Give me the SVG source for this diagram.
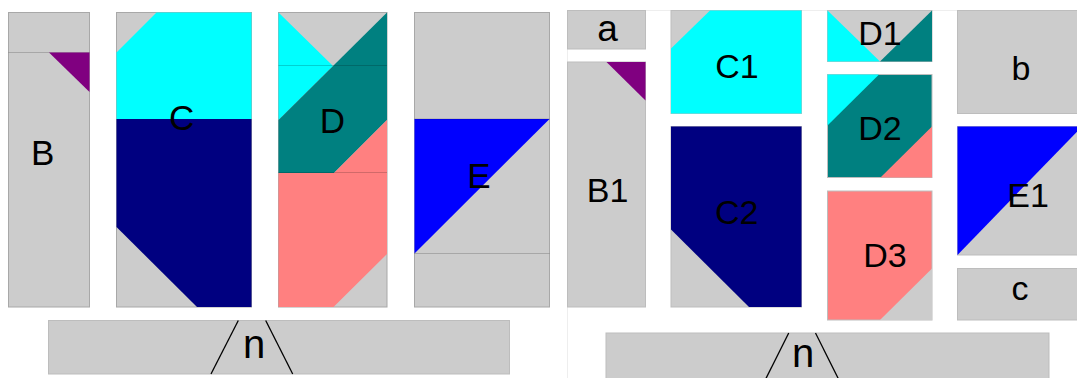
<svg xmlns="http://www.w3.org/2000/svg" width="1077" height="378" viewBox="0 0 1077 378">
<style>
.g{fill:#cccccc;stroke:#a8a8a8;stroke-width:1}
.gl{fill:#cccccc;stroke:#bdbdbd;stroke-width:1}
.gp{fill:#cccccc;stroke:none}
.cy{fill:#00ffff}
.nv{fill:#000080}
.tl{fill:#008080}
.pk{fill:#ff8080}
.bl{fill:#0000ff}
.pu{fill:#800080}
.sep{stroke:#000;stroke-opacity:0.18;stroke-width:1;fill:none}
.lbl{font-family:"Liberation Sans",Arial,sans-serif;fill:#000;text-anchor:middle}
.L{font-size:35px}
.R{font-size:34px}
.N{font-size:40px}
.A{font-size:37px}
.cn{stroke:#000;stroke-width:1.3;fill:none}
</style>
<rect x="0" y="0" width="1077" height="378" fill="#ffffff"/>
<rect x="567.5" y="10.5" width="600" height="500" fill="none" stroke="#eeeeee" stroke-width="1"/>

<g id="B">
<rect class="g" x="8.5" y="12.5" width="81" height="294.5"/>
<line class="sep" x1="8.5" y1="52.5" x2="89.5" y2="52.5" stroke-opacity="0.25"/>
<polygon class="pu" points="49,52.5 89.5,52.5 89.5,92"/>
<text class="lbl L" x="42.7" y="165">B</text>
</g>

<g id="C">
<rect class="g" x="116.5" y="12.5" width="135" height="294.5"/>
<polygon class="cy" points="156.5,12.5 251.5,12.5 251.5,119 116.5,119 116.5,52.5"/>
<polygon class="nv" points="116.5,119 251.5,119 251.5,307 197,307 116.5,227"/>
<text class="lbl L" x="181.7" y="130">C</text>
</g>

<g id="D">
<rect class="g" x="278.5" y="12.5" width="108.5" height="294.5"/>
<polygon class="cy" points="278.5,12.5 333,66 278.5,120"/>
<polygon class="tl" points="333,66 387,12.5 387,120 334,173 278.5,173 278.5,120"/>
<polygon class="pk" points="387,120 387,254 333.5,307 278.5,307 278.5,173 334,173"/>
<line class="sep" x1="278.5" y1="65.5" x2="387" y2="65.5"/>
<line class="sep" x1="278.5" y1="172.5" x2="387" y2="172.5"/>
<text class="lbl L" x="332.5" y="133">D</text>
</g>

<g id="E">
<rect class="g" x="414.5" y="12.5" width="135" height="294.5"/>
<polygon class="bl" points="414.5,119 549.5,119 414.5,253.5"/>
<line class="sep" x1="414.5" y1="119" x2="549.5" y2="119" stroke-opacity="0.25"/>
<line class="sep" x1="414.5" y1="253.5" x2="549.5" y2="253.5" stroke-opacity="0.25"/>
<text class="lbl L" x="479" y="188">E</text>
</g>

<g id="n1">
<rect class="gl" x="48.5" y="320.5" width="461" height="53.5"/>
<text class="lbl N" x="254" y="358">n</text>
</g>

<g id="a">
<rect class="gl" x="567.5" y="10.5" width="78" height="38.5"/>
<text class="lbl A" x="607.5" y="40.5">a</text>
</g>

<g id="B1">
<rect class="gl" x="567.5" y="62" width="78" height="245"/>
<polygon class="pu" points="606.5,62 645.5,62 645.5,100.5"/>
<text class="lbl R" x="607.5" y="202">B1</text>
</g>

<g id="C1">
<rect class="gl" x="671" y="10.5" width="130.5" height="103"/>
<polygon class="cy" points="710,10.5 801.5,10.5 801.5,113.5 671,113.5 671,48.5"/>
<text class="lbl R" x="737" y="77.5">C1</text>
</g>

<g id="C2">
<rect class="gl" x="671" y="126.5" width="130.5" height="180.5"/>
<polygon class="nv" points="671,126.5 801.5,126.5 801.5,307 749,307 671,229.5"/>
<text class="lbl R" x="736.7" y="224">C2</text>
</g>

<g id="D1">
<rect class="gl" x="827.5" y="10.5" width="104.5" height="51"/>
<polygon class="cy" points="827.5,10.5 880,61.5 827.5,61.5"/>
<polygon class="tl" points="932,10.5 932,61.5 880,61.5"/>
<text class="lbl R" x="880" y="45">D1</text>
</g>

<g id="D2">
<rect x="827.5" y="74.5" width="104.5" height="103" fill="#008080" stroke="#bdbdbd" stroke-width="1"/>
<polygon class="cy" points="827.5,74.5 879,74.5 827.5,125.5"/>
<polygon class="pk" points="932,126.5 932,177.5 880.5,177.5"/>
<text class="lbl R" x="880" y="140">D2</text>
</g>

<g id="D3">
<rect x="827.5" y="191" width="104.5" height="129" fill="#ff8080" stroke="#bdbdbd" stroke-width="1"/>
<polygon class="gp" points="932,268.5 932,320 880,320"/>
<text class="lbl R" x="885" y="266.7">D3</text>
</g>

<g id="b">
<rect class="gl" x="957.5" y="10.5" width="130" height="103"/>
<text class="lbl R" x="1021" y="80">b</text>
</g>

<g id="E1">
<rect class="gl" x="957.5" y="126.5" width="130" height="128.5"/>
<polygon class="bl" points="957.5,126.5 1082,126.5 957.5,255"/>
<text class="lbl R" x="1028" y="206.7">E1</text>
</g>

<g id="c">
<rect class="gl" x="957.5" y="268.5" width="130" height="51.5"/>
<text class="lbl R" x="1020" y="300">c</text>
</g>

<g id="n2">
<rect class="gl" x="606" y="333" width="443" height="54"/>
<text class="lbl N" x="803" y="366.7">n</text>
</g>

<g id="connectors">
<line class="cn" x1="238.3" y1="320.5" x2="211" y2="374"/>
<line class="cn" x1="265.7" y1="320.5" x2="292.7" y2="374"/>
<line class="cn" x1="788.7" y1="333" x2="761.7" y2="387"/>
<line class="cn" x1="815.5" y1="333" x2="842.5" y2="387"/>
</g>
</svg>
